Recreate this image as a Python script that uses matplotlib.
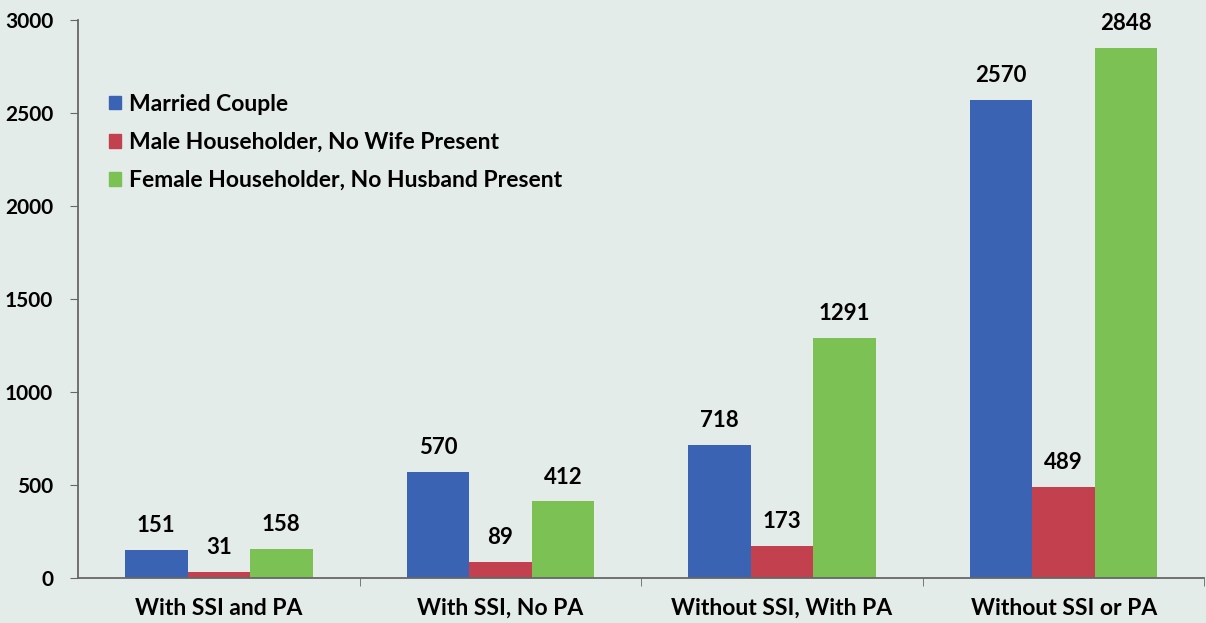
import numpy as np
import matplotlib.pyplot as plt
from matplotlib.patches import Patch

plt.rcParams['font.family'] = ['Lato', 'DejaVu Sans']

# data
categories = ['With SSI and PA', 'With SSI, No PA', 'Without SSI, With PA', 'Without SSI or PA']
series_names = ['Married Couple', 'Male Householder, No Wife Present', 'Female Householder, No Husband Present']
married = [151, 570, 718, 2570]
male = [31, 89, 173, 489]
female = [158, 412, 1291, 2848]
y_ticks = [0, 500, 1000, 1500, 2000, 2500, 3000]

colors = ['#3a63b4', '#c3404e', '#7cc154']
bg = '#e4ecea'

fig = plt.figure(figsize=(12.06, 6.23), dpi=100, facecolor=bg)
ax = fig.add_axes([0.0647, 0.072, 0.934, 0.896], facecolor=bg)

x = np.arange(len(categories))
w = 0.222
for i, vals in enumerate([married, male, female]):
    bars = ax.bar(x + (i - 1) * w, vals, width=w, color=colors[i], label=series_names[i])
    for b, v in zip(bars, vals):
        ax.annotate(str(v), (b.get_x() + b.get_width() / 2, v), xytext=(0, 10),
                    textcoords='offset points', ha='center', va='bottom',
                    fontsize=16, fontweight='bold')

ax.set_xlim(-0.5, 3.5)
ax.set_ylim(0, 3000)
ax.set_yticks(y_ticks)
ax.set_yticklabels([str(t) for t in y_ticks], fontsize=15, fontweight='bold')
ax.set_xticks(x)
ax.set_xticklabels(categories, fontsize=16.5, fontweight='bold')
ax.tick_params(axis='x', which='major', length=0, pad=14)
ax.set_xticks([0.5, 1.5, 2.5, 3.5], minor=True)
ax.tick_params(axis='x', which='minor', length=6, color='#666666')
ax.tick_params(axis='y', length=6, color='#666666', pad=12)

for s in ['top', 'right']:
    ax.spines[s].set_visible(False)
for s in ['left', 'bottom']:
    ax.spines[s].set_color('#666666')
    ax.spines[s].set_linewidth(1.3)

handles = [Patch(color=c) for c in colors]
ax.legend(handles, series_names, loc='upper left', bbox_to_anchor=(0.009, 0.905),
          frameon=False, handlelength=0.55, handleheight=0.55, handletextpad=0.35,
          labelspacing=0.75, prop={'size': 16.5, 'weight': 'bold'})

fig.savefig('out.png', dpi=100, facecolor=bg)
